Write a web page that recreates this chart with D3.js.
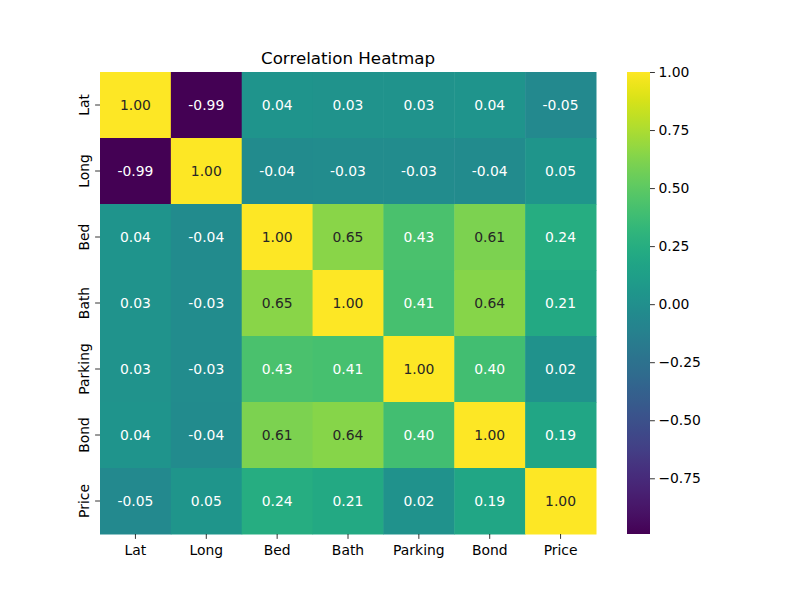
<!DOCTYPE html>
<html><head><meta charset="utf-8">
<script src="https://cdn.jsdelivr.net/npm/d3@7"></script>
<style>body{margin:0;background:#fff}</style>
</head><body>
<svg id="c" width="800" height="600"></svg>
<script>
const labels = ["Lat","Long","Bed","Bath","Parking","Bond","Price"];
const matrix = [
  [1.00,-0.99,0.04,0.03,0.03,0.04,-0.05],
  [-0.99,1.00,-0.04,-0.03,-0.03,-0.04,0.05],
  [0.04,-0.04,1.00,0.65,0.43,0.61,0.24],
  [0.03,-0.03,0.65,1.00,0.41,0.64,0.21],
  [0.03,-0.03,0.43,0.41,1.00,0.40,0.02],
  [0.04,-0.04,0.61,0.64,0.40,1.00,0.19],
  [-0.05,0.05,0.24,0.21,0.02,0.19,1.00]
];
const cbTicks = [1.00,0.75,0.50,0.25,0.00,-0.25,-0.50,-0.75];
const title = "Correlation Heatmap";

const svg = d3.select("#c");
const font = "DejaVu Sans, sans-serif";
const L=100,R=596,T=72,B=534;
const x = d3.scaleBand().domain(labels).range([L,R]);
const y = d3.scaleBand().domain(labels).range([T,B]);
const vmin = -0.99, vmax = 1.00;
const color = d3.scaleSequential(d3.interpolateViridis).domain([vmin,vmax]);

function lum(c){
  const rgb=d3.rgb(c);
  const f=v=>{v/=255;return v<=0.03928?v/12.92:Math.pow((v+0.055)/1.055,2.4);};
  return 0.2126*f(rgb.r)+0.7152*f(rgb.g)+0.0722*f(rgb.b);
}

const cells=[];
matrix.forEach((row,i)=>row.forEach((v,j)=>cells.push({r:labels[i],c:labels[j],v})));
const g=svg.append("g");
g.selectAll("rect").data(cells).join("rect")
  .attr("x",d=>x(d.c)).attr("y",d=>y(d.r))
  .attr("width",x.bandwidth()+0.5).attr("height",y.bandwidth()+0.5)
  .attr("fill",d=>color(d.v));
g.selectAll("text").data(cells).join("text")
  .attr("x",d=>x(d.c)+x.bandwidth()/2).attr("y",d=>y(d.r)+y.bandwidth()/2)
  .attr("text-anchor","middle").attr("dominant-baseline","central")
  .attr("font-family",font).attr("font-size",13.9)
  .attr("fill",d=>lum(color(d.v))>0.408?"#262626":"#ffffff")
  .text(d=>d.v.toFixed(2));

const xa=svg.append("g").attr("transform",`translate(0,${B})`)
  .call(d3.axisBottom(x).tickSize(4.9).tickPadding(6));
xa.select(".domain").remove();
xa.selectAll("text").attr("font-family",font).attr("font-size",13.9).attr("fill","#000");
xa.selectAll("line").attr("stroke","#000").attr("stroke-width",0.8);

const ya=svg.append("g").attr("transform",`translate(${L},0)`)
  .call(d3.axisLeft(y).tickSize(4.9).tickPadding(4));
ya.select(".domain").remove();
ya.selectAll("line").attr("stroke","#000").attr("stroke-width",0.8);
ya.selectAll(".tick text").attr("font-family",font).attr("font-size",13.9).attr("fill","#000")
  .attr("transform","rotate(-90)").attr("x",0).attr("y",-11).attr("dy","0")
  .attr("text-anchor","middle").attr("dominant-baseline","auto");

svg.append("text").attr("x",(L+R)/2).attr("y",64).attr("text-anchor","middle")
  .attr("font-family",font).attr("font-size",16.7).attr("fill","#000").text(title);

// colorbar
const cbL=627,cbR=650;
const cy=d3.scaleLinear().domain([vmin,vmax]).range([B,T]);
const defs=svg.append("defs");
const grad=defs.append("linearGradient").attr("id","cbg").attr("x1",0).attr("y1",1).attr("x2",0).attr("y2",0);
d3.range(0,1.0001,0.02).forEach(t=>grad.append("stop").attr("offset",t).attr("stop-color",color(vmin+t*(vmax-vmin))));
svg.append("rect").attr("x",cbL).attr("y",T).attr("width",cbR-cbL).attr("height",B-T).attr("fill","url(#cbg)");
const ca=svg.append("g").attr("transform",`translate(${cbR},0)`)
  .call(d3.axisRight(cy).tickValues(cbTicks).tickFormat(d=>d.toFixed(2).replace("-","\u2212")).tickSize(4.9).tickPadding(3.5));
ca.select(".domain").remove();
ca.selectAll("line").attr("stroke","#000").attr("stroke-width",0.8);
ca.selectAll("text").attr("font-family",font).attr("font-size",13.9).attr("fill","#000");
</script>
</body></html>
